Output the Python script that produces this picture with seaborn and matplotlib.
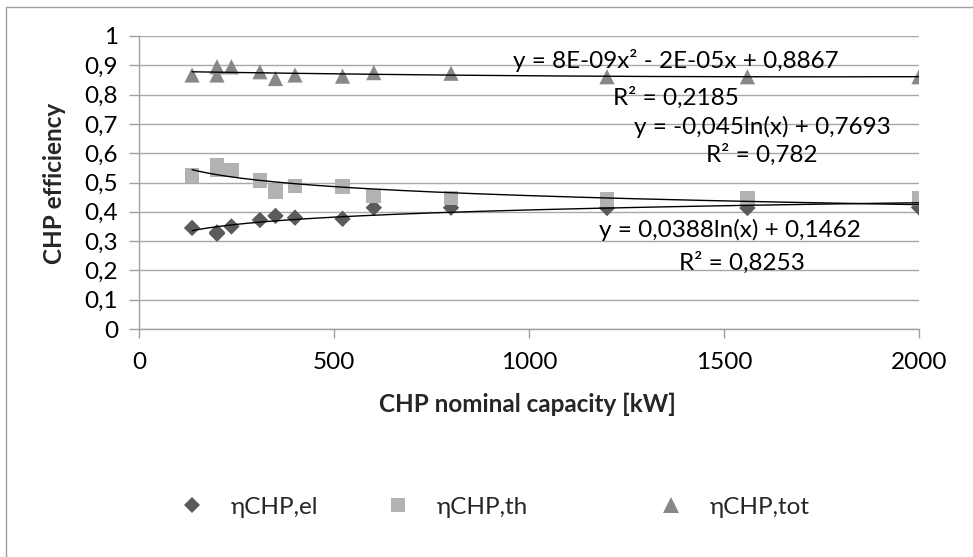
import numpy as np
import pandas as pd
import matplotlib
matplotlib.use("Agg")
import matplotlib.pyplot as plt
import seaborn as sns
from matplotlib.lines import Line2D

# ---- data ----
capacity_kw = [136, 200, 200, 237, 310, 350, 400, 522, 602, 800, 1200, 1560, 2000]
eta_el = [0.345, 0.330, 0.325, 0.350, 0.372, 0.386, 0.380, 0.376, 0.414, 0.414, 0.413, 0.413, 0.415]
eta_th = [0.523, 0.560, 0.545, 0.543, 0.506, 0.469, 0.488, 0.486, 0.454, 0.447, 0.442, 0.447, 0.445]
eta_tot = [0.867, 0.895, 0.867, 0.895, 0.878, 0.855, 0.867, 0.863, 0.875, 0.873, 0.861, 0.861, 0.861]

series_names = ["ηCHP,el", "ηCHP,th", "ηCHP,tot"]
series_colors = ["#5b5b5b", "#b2b2b2", "#888888"]
series_markers = ["D", "s", "^"]

eq_texts = ["y = 8E-09x² - 2E-05x + 0,8867", "R² = 0,2185",
            "y = -0,045ln(x) + 0,7693", "R² = 0,782",
            "y = 0,0388ln(x) + 0,1462", "R² = 0,8253"]

x_ticks = [0, 500, 1000, 1500, 2000]
y_ticks = [0, 0.1, 0.2, 0.3, 0.4, 0.5, 0.6, 0.7, 0.8, 0.9, 1.0]
y_ticklabels = ["0", "0,1", "0,2", "0,3", "0,4", "0,5", "0,6", "0,7", "0,8", "0,9", "1"]

# ---- style ----
sns.set_theme(style="white")
plt.rcParams["font.family"] = ["Lato", "DejaVu Sans"]
FS = 17.5

W, H = 973, 557
fig = plt.figure(figsize=(W / 100, H / 100), dpi=100)
ax = fig.add_axes([139 / W, 1 - 329 / H, (919 - 139) / W, (329 - 36) / H])

df = pd.DataFrame({"x": capacity_kw, "el": eta_el, "th": eta_th, "tot": eta_tot})
sizes = [70, 110, 120]
for col, name, c, m, s in zip(["el", "th", "tot"], series_names, series_colors, series_markers, sizes):
    sns.scatterplot(data=df, x="x", y=col, ax=ax, color=c, marker=m, s=s,
                    edgecolor="none", linewidth=0, zorder=3, legend=False)

# trend lines (fitted like the spreadsheet trendlines)
x = np.array(capacity_kw, dtype=float)
xs = np.linspace(x.min(), x.max(), 300)
a_el, b_el = np.polyfit(np.log(x), eta_el, 1)
a_th, b_th = np.polyfit(np.log(x), eta_th, 1)
p_tot = np.polyfit(x, eta_tot, 2)
trend = pd.DataFrame({"x": xs,
                      "el": a_el * np.log(xs) + b_el,
                      "th": a_th * np.log(xs) + b_th,
                      "tot": np.polyval(p_tot, xs)})
for col in ["el", "th", "tot"]:
    sns.lineplot(data=trend, x="x", y=col, ax=ax, color="black", linewidth=1.0, zorder=4)

ax.set_xlim(0, 2000)
ax.set_ylim(0, 1)
ax.set_xticks(x_ticks)
ax.set_xticklabels([str(t) for t in x_ticks])
ax.set_yticks(y_ticks)
ax.set_yticklabels(y_ticklabels)
ax.set_xlabel("")
ax.set_ylabel("")
ax.yaxis.grid(True, color="#a8a8a8", linewidth=1.0)
ax.xaxis.grid(False)
ax.set_axisbelow(True)
for sp in ["top", "right"]:
    ax.spines[sp].set_visible(False)
for sp in ["left", "bottom"]:
    ax.spines[sp].set_color("#a0a0a0")
    ax.spines[sp].set_linewidth(1.0)
ax.tick_params(axis="x", which="major", direction="out", length=6.5, width=1, color="#a0a0a0",
               pad=10, labelsize=FS, labelcolor="black", bottom=True)
ax.tick_params(axis="y", which="major", direction="out", length=7, width=1, color="#a0a0a0",
               pad=8, labelsize=FS, labelcolor="black", left=True)

# axis titles
fig.text(527 / W, 1 - 404 / H, "CHP nominal capacity [kW]", ha="center", va="center",
         fontsize=FS, fontweight="bold")
fig.text(55 / W, 1 - 183 / H, "CHP efficiency", ha="center", va="center", rotation=90,
         fontsize=FS, fontweight="bold")

# equations
eq_pos = [(676, 60), (676, 98), (762, 127), (762, 155), (730, 230), (742, 263)]
for t, (px, py) in zip(eq_texts, eq_pos):
    fig.text(px / W, 1 - py / H, t, ha="center", va="center", fontsize=FS, color="black")

# legend (three entries placed like the original)
leg_pos = [194, 400, 673]
msz = [8, 10, 11]
for name, c, m, px, ms in zip(series_names, series_colors, series_markers, leg_pos, msz):
    h = Line2D([], [], linestyle="none", marker=m, color=c, markersize=ms, markeredgewidth=0)
    fig.legend([h], [name], loc="center left", bbox_to_anchor=((px - 14) / W, 1 - 507 / H),
               frameon=False, fontsize=FS, handlelength=1.0, handletextpad=1.1,
               borderpad=0, borderaxespad=0)

# outer frame (left and top edges visible)
fig.add_artist(Line2D([6 / W, 6 / W], [0, 1 - 7 / H], color="#a0a0a0", linewidth=1,
                      transform=fig.transFigure))
fig.add_artist(Line2D([6 / W, 1], [1 - 7 / H, 1 - 7 / H], color="#a0a0a0", linewidth=1,
                      transform=fig.transFigure))

fig.savefig("out.png", dpi=100, facecolor="white")
